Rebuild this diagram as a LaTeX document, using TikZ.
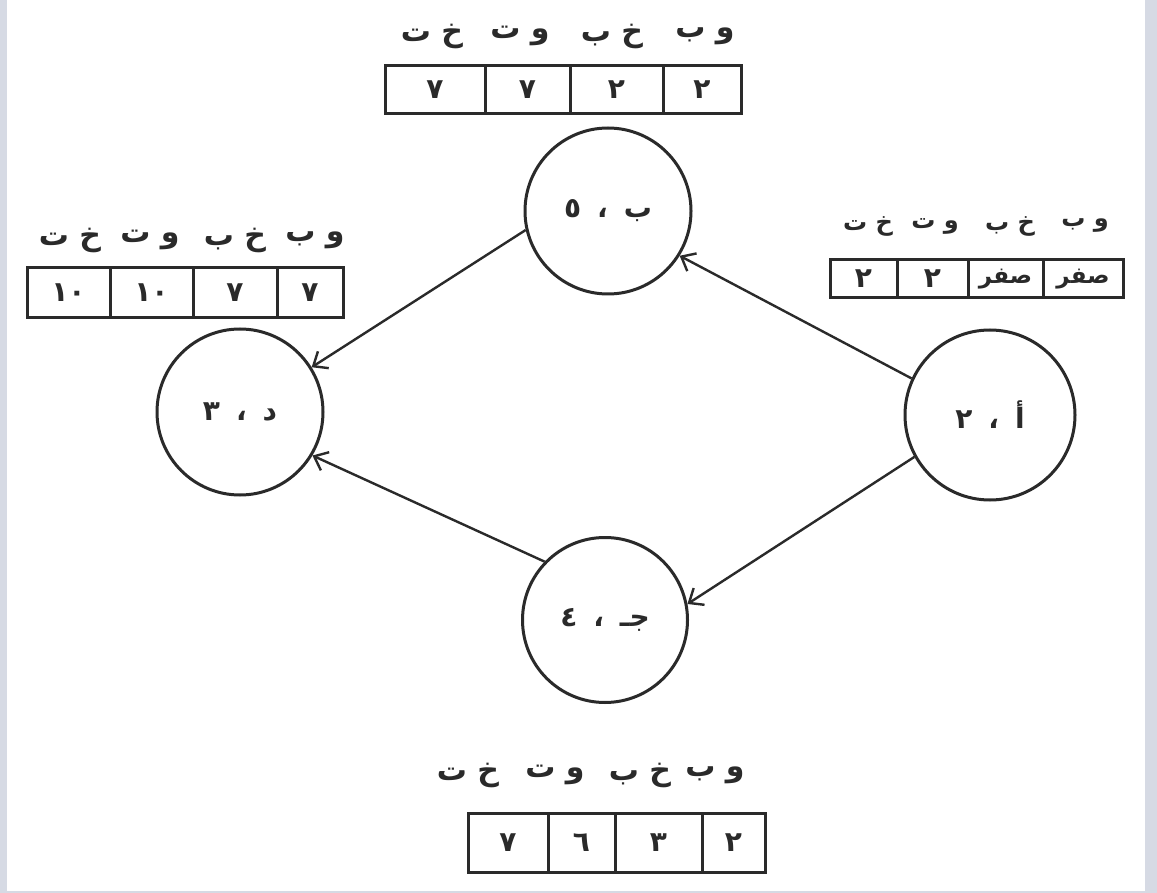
\documentclass[tikz,border=0pt]{standalone}
\usepackage{fontspec}
\usetikzlibrary{arrows.meta}
\TeXXeTstate=1
\newfontfamily\arabicfont[Script=Arabic]{DejaVu Sans}
\newcommand\ar[1]{\arabicfont\bfseries\beginR #1\endR}
% activity name, comma and duration, set wide apart
\newcommand\evlabel[2]{\ar{#1\hspace{16pt}،\hspace{16pt}#2}}
\definecolor{inkc}{HTML}{2A2A2A}
\definecolor{edgebar}{HTML}{D6DAE4}
\tikzset{
  ink/.style={draw=inkc, line width=3pt},
  event/.style={ink, circle, inner sep=0pt, text=inkc,
    font=\fontsize{28}{30}\selectfont},
  cell/.style={ink, rectangle, inner sep=0pt, anchor=center, text=inkc,
    font=\fontsize{28}{30}\selectfont},
  lbl/.style={inner sep=0pt, text=inkc, font=\fontsize{30}{32}\selectfont},
  slbl/.style={inner sep=0pt, text=inkc, font=\fontsize{24}{26}\selectfont},
  edge/.style={draw=inkc, line width=2.4pt,
    -{Straight Barb[length=12pt, width=20pt, line width=2.4pt]}}
}
\begin{document}
\begin{tikzpicture}[x=1pt, y=-1pt]
  % page and the grey strips at its sides
  \fill[white] (0,0) rectangle (1157,893);
  \fill[edgebar] (0,0) rectangle (7,893);
  \fill[edgebar] (1145,0) rectangle (1157,893);
  \fill[edgebar] (0,891) rectangle (1157,893);
  \useasboundingbox (0,0) rectangle (1157,893);

  % activities
  \node[event, minimum size=166pt] (B) at (608,211) {\evlabel{ب}{٥}};
  \node[event, minimum size=166pt] (D) at (240,412) {\evlabel{د}{٣}};
  \node[event, minimum size=170pt] (A) at (990,415) {\evlabel{أ}{٢}};
  \node[event, minimum size=165pt] (C) at (605,620) {\evlabel{جـ}{٤}};

  % dependencies
  \draw[edge] (A.155) -- (B.328);
  \draw[edge] (B.193) -- (D.32);
  \draw[edge] (A.209) -- (C.11);
  \draw[edge] (C.136) -- (D.329);

  % times of B
  \node[cell, minimum width=100pt, minimum height=48pt] (b1) at (435,90) {\ar{٧}};
  \node[cell, minimum width=85pt,  minimum height=48pt] (b2) at (527.5,90) {\ar{٧}};
  \node[cell, minimum width=93pt,  minimum height=48pt] (b3) at (616.5,90) {\ar{٢}};
  \node[cell, minimum width=78pt,  minimum height=48pt] (b4) at (702,90) {\ar{٢}};
  \node[lbl] (bl1) at (432,36) {\ar{خ ت}};
  \node[lbl] (bl2) at (520,36) {\ar{و ت}};
  \node[lbl] (bl3) at (612,36) {\ar{خ ب}};
  \node[lbl] (bl4) at (705,36) {\ar{و ب}};

  % times of D
  \node[cell, minimum width=83pt, minimum height=50pt] (d1) at (68.5,293) {\ar{١٠}};
  \node[cell, minimum width=83pt, minimum height=50pt] (d2) at (151.5,293) {\ar{١٠}};
  \node[cell, minimum width=84pt, minimum height=50pt] (d3) at (235,293) {\ar{٧}};
  \node[cell, minimum width=66pt, minimum height=50pt] (d4) at (310,293) {\ar{٧}};
  \node[lbl] (dl1) at (70,240) {\ar{خ ت}};
  \node[lbl] (dl2) at (150,240) {\ar{و ت}};
  \node[lbl] (dl3) at (235,240) {\ar{خ ب}};
  \node[lbl] (dl4) at (315,240) {\ar{و ب}};

  % times of A
  \node[cell, minimum width=67pt, minimum height=38pt] (a1) at (863.5,279) {\ar{٢}};
  \node[cell, minimum width=71pt, minimum height=38pt] (a2) at (932.5,279) {\ar{٢}};
  \node[cell, minimum width=75pt, minimum height=38pt, font=\fontsize{23}{25}\selectfont] (a3) at (1005.5,279) {\ar{صفر}};
  \node[cell, minimum width=80pt, minimum height=38pt, font=\fontsize{23}{25}\selectfont] (a4) at (1083,279) {\ar{صفر}};
  \node[slbl] (al1) at (868,226) {\ar{خ ت}};
  \node[slbl] (al2) at (935,226) {\ar{و ت}};
  \node[slbl] (al3) at (1010,226) {\ar{خ ب}};
  \node[slbl] (al4) at (1085,226) {\ar{و ب}};

  % times of C
  \node[cell, minimum width=80pt, minimum height=59pt] (c1) at (508,842.5) {\ar{٧}};
  \node[cell, minimum width=67pt, minimum height=59pt] (c2) at (581.5,842.5) {\ar{٦}};
  \node[cell, minimum width=87pt, minimum height=59pt] (c3) at (658.5,842.5) {\ar{٣}};
  \node[cell, minimum width=63pt, minimum height=59pt] (c4) at (733.5,842.5) {\ar{٢}};
  \node[lbl] (cl1) at (468,775) {\ar{خ ت}};
  \node[lbl] (cl2) at (555,775) {\ar{و ت}};
  \node[lbl] (cl3) at (640,775) {\ar{خ ب}};
  \node[lbl] (cl4) at (715,775) {\ar{و ب}};
\end{tikzpicture}
\end{document}
